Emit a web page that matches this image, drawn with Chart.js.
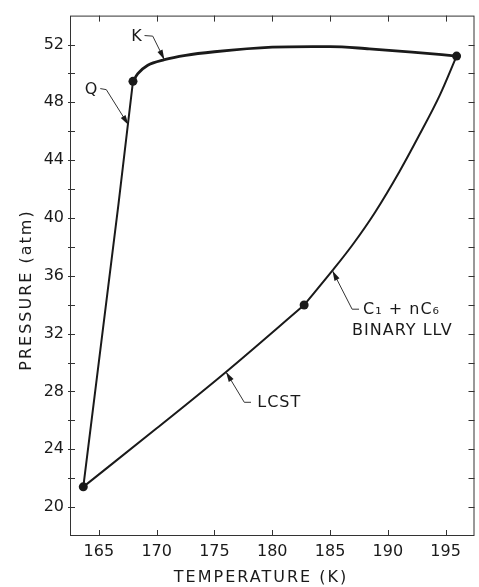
<!DOCTYPE html>
<html>
<head>
<meta charset="utf-8">
<script src="https://cdn.jsdelivr.net/npm/chart.js@4.4.1/dist/chart.umd.min.js"></script>
<style>
  html, body { margin: 0; padding: 0; background: #fff; }
</style>
</head>
<body>
<canvas id="chart" width="479" height="587"></canvas>
<script>
// ===== values =====
const qLineT = [163.65, 166.7, 167.95];
const qLineP = [21.4, 41.0, 49.45];

const kCurveT = [167.95, 168.37, 169.23, 170.67, 172.5, 175.0, 180.0, 183.5, 185.0, 188.4, 192.1, 195.95];
const kCurveP = [49.45, 49.98, 50.56, 50.95, 51.25, 51.5, 51.82, 51.86, 51.86, 51.7, 51.48, 51.2];

const lcstT = [163.65, 170.0, 176.0, 182.76];
const lcstP = [21.4, 25.45, 29.35, 33.98];

const llvT = [182.76, 185.2, 187.0, 188.9, 191.0, 192.7, 194.5, 195.95];
const llvP = [33.98, 36.35, 38.2, 40.4, 43.2, 45.7, 48.5, 51.2];

const pointT = [163.65, 167.95, 182.76, 195.95];
const pointP = [21.4, 49.45, 33.98, 51.2];

const xTicks = [165, 170, 175, 180, 185, 190, 195];
const yTicks = [20, 24, 28, 32, 36, 40, 44, 48, 52];
const yMinorTicks = [20, 22, 24, 26, 28, 30, 32, 34, 36, 38, 40, 42, 44, 46, 48, 50, 52];

const xTitle = 'TEMPERATURE (K)';
const yTitle = 'PRESSURE (atm)';

// labels with their leader arrows (data coordinates)
const notes = [
    { lines: ['K'], at: [167.8, 52.56], leader: [[168.95, 52.62], [169.66, 52.58], [170.67, 50.95]] },
    { lines: ['Q'], at: [163.77, 48.88], leader: [[165.12, 48.95], [165.64, 48.88], [167.56, 46.43]] },
    { lines: ['C\u2081 + nC\u2086'], at: [187.86, 33.62], leader: [[187.51, 33.69], [186.91, 33.69], [185.21, 36.35]] },
    { lines: ['BINARY LLV'], at: [186.91, 32.17], leader: null },
    { lines: ['LCST'], at: [178.7, 27.2], leader: [[178.16, 27.25], [177.58, 27.25], [176.0, 29.35]] }
];

const INK = '#1a1a1a';
const FONT = '"DejaVu Sans", sans-serif';

const toXY = (ts, ps) => ts.map((t, i) => ({ x: t, y: ps[i] }));

// frame, inward ticks, annotations and axis titles
const paperPlugin = {
    id: 'paper',
    afterDatasetsDraw(chart) {
        const { ctx, chartArea: a, scales: { x, y } } = chart;
        ctx.save();
        ctx.strokeStyle = '#333';
        ctx.lineWidth = 1;
        ctx.strokeRect(a.left + 0.5, a.top + 0.5, a.right - a.left - 1, a.bottom - a.top - 1);

        ctx.beginPath();
        xTicks.forEach(v => {
            const px = Math.round(x.getPixelForValue(v)) + 0.5;
            ctx.moveTo(px, a.bottom); ctx.lineTo(px, a.bottom - 6);
            ctx.moveTo(px, a.top); ctx.lineTo(px, a.top + 6);
        });
        yMinorTicks.forEach(v => {
            const py = Math.round(y.getPixelForValue(v)) + 0.5;
            ctx.moveTo(a.left - 2, py); ctx.lineTo(a.left + 5, py);
            ctx.moveTo(a.right, py); ctx.lineTo(a.right - 6, py);
        });
        ctx.stroke();

        // annotations
        ctx.fillStyle = INK;
        ctx.strokeStyle = '#333';
        notes.forEach(n => {
            if (n.leader) {
                const pts = n.leader.map(p => [x.getPixelForValue(p[0]), y.getPixelForValue(p[1])]);
                ctx.lineWidth = 1;
                ctx.beginPath();
                ctx.moveTo(pts[0][0], pts[0][1]);
                pts.slice(1).forEach(p => ctx.lineTo(p[0], p[1]));
                ctx.stroke();
                const tip = pts[pts.length - 1], from = pts[pts.length - 2];
                const ang = Math.atan2(tip[1] - from[1], tip[0] - from[0]);
                const len = 10, half = 2.8;
                ctx.beginPath();
                ctx.moveTo(tip[0], tip[1]);
                ctx.lineTo(tip[0] - len * Math.cos(ang) + half * Math.sin(ang), tip[1] - len * Math.sin(ang) - half * Math.cos(ang));
                ctx.lineTo(tip[0] - len * Math.cos(ang) - half * Math.sin(ang), tip[1] - len * Math.sin(ang) + half * Math.cos(ang));
                ctx.closePath();
                ctx.fill();
            }
            ctx.font = '16px ' + FONT;
            ctx.letterSpacing = '1px';
            ctx.textAlign = 'left';
            ctx.textBaseline = 'middle';
            n.lines.forEach((s, i) => {
                ctx.fillText(s, x.getPixelForValue(n.at[0]), y.getPixelForValue(n.at[1]) + i * 20);
            });
        });

        // axis titles
        ctx.font = '16px ' + FONT;
        ctx.letterSpacing = '2px';
        ctx.textAlign = 'center';
        ctx.textBaseline = 'middle';
        ctx.fillText(xTitle, 261, 578);
        ctx.translate(27, 290);
        ctx.rotate(-Math.PI / 2);
        ctx.fillText(yTitle, 0, 0);
        ctx.restore();
    }
};

const lineStyle = (w) => ({
    showLine: true,
    borderColor: INK,
    borderWidth: w,
    pointRadius: 0,
    pointHoverRadius: 0,
    fill: false
});

new Chart(document.getElementById('chart'), {
    type: 'scatter',
    data: {
        datasets: [
            { data: toXY(qLineT, qLineP), ...lineStyle(2), tension: 0 },
            { data: toXY(kCurveT, kCurveP), ...lineStyle(2.8), cubicInterpolationMode: 'monotone' },
            { data: toXY(lcstT, lcstP), ...lineStyle(2), cubicInterpolationMode: 'monotone' },
            { data: toXY(llvT, llvP), ...lineStyle(2), cubicInterpolationMode: 'monotone' },
            {
                data: toXY(pointT, pointP),
                showLine: false,
                pointRadius: 4.5,
                pointBackgroundColor: INK,
                pointBorderWidth: 0
            }
        ]
    },
    options: {
        responsive: false,
        animation: false,
        layout: { padding: { top: 11, right: 3, left: 0, bottom: 0 } },
        plugins: {
            legend: { display: false },
            tooltip: { enabled: false }
        },
        scales: {
            x: {
                type: 'linear',
                min: 162.5,
                max: 197.5,
                afterBuildTicks: s => { s.ticks = xTicks.map(v => ({ value: v })); },
                afterFit: s => { s.height = 51; },
                grid: { display: false, drawTicks: false },
                border: { display: false },
                ticks: {
                    color: INK,
                    padding: 6,
                    maxRotation: 0,
                    font: { family: FONT, size: 16 }
                }
            },
            y: {
                type: 'linear',
                min: 18,
                max: 54,
                afterBuildTicks: s => { s.ticks = yTicks.map(v => ({ value: v })); },
                afterFit: s => { s.width = 70; },
                grid: { display: false, drawTicks: false },
                border: { display: false },
                ticks: {
                    color: INK,
                    padding: 6,
                    font: { family: FONT, size: 16 }
                }
            }
        }
    },
    plugins: [paperPlugin]
});
</script>
</body>
</html>
